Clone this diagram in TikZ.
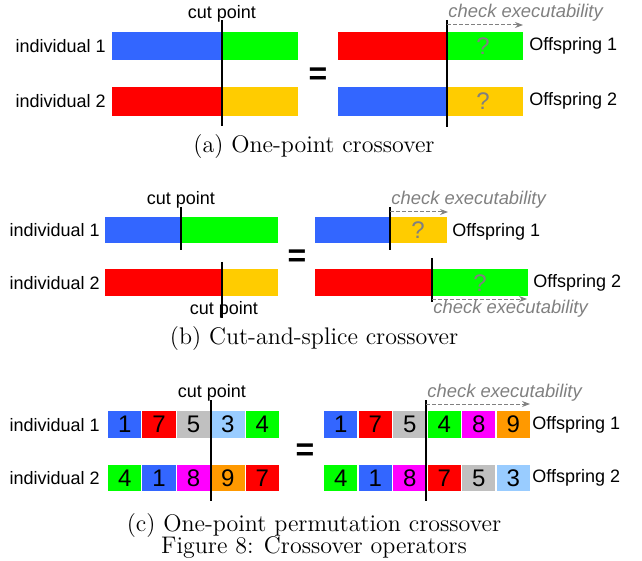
\documentclass[tikz,border=0pt]{standalone}
\usepackage{fontspec}
\newfontfamily\labelfont{Liberation Sans}
\usetikzlibrary{arrows.meta}
\definecolor{GeneBlue}{HTML}{3366FF}
\definecolor{GeneGreen}{HTML}{00FF00}
\definecolor{GeneRed}{HTML}{FF0000}
\definecolor{GeneYellow}{HTML}{FFCC00}
\definecolor{GeneGray}{HTML}{C0C0C0}
\definecolor{GeneSky}{HTML}{99CCFF}
\definecolor{GeneMagenta}{HTML}{FF00FF}
\definecolor{GeneOrange}{HTML}{FF9900}
\definecolor{CheckGray}{HTML}{808080}

\tikzset{
  lbl/.style={font=\labelfont\fontsize{9}{10}\selectfont, inner sep=0pt},
  chk/.style={font=\labelfont\itshape\fontsize{9.2}{10}\selectfont, text=CheckGray, inner sep=0pt, anchor=west},
  qmark/.style={font=\labelfont\fontsize{12}{12}\selectfont, text=CheckGray, inner sep=0pt},
  eqsign/.style={font=\labelfont\bfseries\fontsize{16}{16}\selectfont, inner sep=0pt},
  capt/.style={font=\fontsize{12}{14}\selectfont, inner sep=0pt, anchor=base},
  cutline/.style={line width=1.3pt, black},
  chkarrow/.style={->, dash pattern=on 2pt off 1pt, CheckGray, line width=0.5pt},
  gene/.style={draw=white, line width=0.5pt, minimum width=17.2pt, minimum height=13.6pt,
    anchor=west, inner sep=0pt, font=\labelfont\fontsize{12}{12}\selectfont}
}

\begin{document}
\begin{tikzpicture}[x=0.5pt, y=-0.5pt, >={Stealth[length=4pt,width=3pt]}]
    \useasboundingbox (0,0) rectangle (642,561);

    % (a) One-point crossover
    \node[lbl, anchor=east] (aInd1) at (106,46) {individual 1};
    \node[lbl, anchor=east] (aInd2) at (106,101) {individual 2};
    \fill[GeneBlue] (112,32) rectangle (222,60);
    \fill[GeneGreen] (222,32) rectangle (298,60);
    \fill[GeneRed] (112,87) rectangle (222,116);
    \fill[GeneYellow] (222,87) rectangle (298,116);
    \coordinate (aCutTop) at (222,20);
    \coordinate (aCutBot) at (222,126);
    \draw[cutline] (aCutTop) -- (aCutBot);
    \node[lbl] (aCut) at (222,14) {cut point};

    \node[eqsign] (aEq) at (318,76) {=};

    \fill[GeneRed] (338,32) rectangle (447,60);
    \fill[GeneGreen] (447,32) rectangle (523,60);
    \fill[GeneBlue] (338,87) rectangle (447,116);
    \fill[GeneYellow] (447,87) rectangle (523,116);
    \node[qmark] (aQ1) at (483,46) {?};
    \node[qmark] (aQ2) at (483,101) {?};
    \coordinate (aOffTop) at (447,20);
    \coordinate (aOffBot) at (447,127);
    \draw[cutline] (aOffTop) -- (aOffBot);
    \coordinate (aChkA) at (447,25);
    \coordinate (aChkB) at (523,25);
    \draw[chkarrow] (aChkA) -- (aChkB);
    \node[chk] (aChk) at (448,13) {check executability};
    \node[lbl, anchor=west] (aOff1) at (529,46) {Offspring 1};
    \node[lbl, anchor=west] (aOff2) at (529,101) {Offspring 2};

    \node[capt] (aCap) at (314,153) {(a) One-point crossover};

    % (b) Cut-and-splice crossover
    \node[lbl, anchor=east] (bInd1) at (100,230) {individual 1};
    \node[lbl, anchor=east] (bInd2) at (100,283) {individual 2};
    \fill[GeneBlue] (105,217) rectangle (181,243);
    \fill[GeneGreen] (181,217) rectangle (278,243);
    \fill[GeneRed] (105,269) rectangle (222,296);
    \fill[GeneYellow] (222,269) rectangle (278,296);
    \coordinate (bCut1Top) at (181,207);
    \coordinate (bCut1Bot) at (181,250);
    \draw[cutline] (bCut1Top) -- (bCut1Bot);
    \node[lbl] (bCut1) at (181,200) {cut point};
    \coordinate (bCut2Top) at (222,262);
    \coordinate (bCut2Bot) at (222,318);
    \draw[cutline] (bCut2Top) -- (bCut2Bot);
    \node[lbl] (bCut2) at (224,310) {cut point};

    \node[eqsign] (bEq) at (297,258) {=};

    \fill[GeneBlue] (315,217) rectangle (390,243);
    \fill[GeneYellow] (390,217) rectangle (447,243);
    \node[qmark] (bQ1) at (418,230) {?};
    \coordinate (bOff1Top) at (390,207);
    \coordinate (bOff1Bot) at (390,250);
    \draw[cutline] (bOff1Top) -- (bOff1Bot);
    \coordinate (bChk1A) at (390,212);
    \coordinate (bChk1B) at (448,212);
    \draw[chkarrow] (bChk1A) -- (bChk1B);
    \node[chk] (bChk1) at (391,200) {check executability};
    \node[lbl, anchor=west] (bOff1) at (452,232) {Offspring 1};

    \fill[GeneRed] (315,269) rectangle (432,296);
    \fill[GeneGreen] (432,269) rectangle (528,296);
    \node[qmark] (bQ2) at (480,283) {?};
    \coordinate (bOff2Top) at (432,258);
    \coordinate (bOff2Bot) at (432,302);
    \draw[cutline] (bOff2Top) -- (bOff2Bot);
    \coordinate (bChk2A) at (432,299);
    \coordinate (bChk2B) at (527,299);
    \draw[chkarrow] (bChk2A) -- (bChk2B);
    \node[chk] (bChk2) at (433,309) {check executability};
    \node[lbl, anchor=west] (bOff2) at (533,283) {Offspring 2};

    \node[capt] (bCap) at (314,344) {(b) Cut-and-splice crossover};

    % (c) One-point permutation crossover
    \node[lbl, anchor=east] (cInd1) at (100,425) {individual 1};
    \node[lbl, anchor=east] (cInd2) at (100,478) {individual 2};
    \foreach \col/\num [count=\i from 0] in {GeneBlue/1, GeneRed/7, GeneGray/5, GeneSky/3, GeneGreen/4}
        \node[gene, fill=\col] (cPar1g\i) at ({107+34.4*\i},424.5) {\num};
    \foreach \col/\num [count=\i from 0] in {GeneGreen/4, GeneBlue/1, GeneMagenta/8, GeneOrange/9, GeneRed/7}
        \node[gene, fill=\col] (cPar2g\i) at ({107+34.4*\i},478) {\num};
    \coordinate (cCutTop) at (211,400);
    \coordinate (cCutBot) at (211,501);
    \draw[cutline] (cCutTop) -- (cCutBot);
    \node[lbl] (cCut) at (212,393) {cut point};

    \node[eqsign] (cEq) at (305,452) {=};

    \foreach \col/\num [count=\i from 0] in {GeneBlue/1, GeneRed/7, GeneGray/5, GeneGreen/4, GeneMagenta/8, GeneOrange/9}
        \node[gene, fill=\col] (cOff1g\i) at ({323+34.5*\i},424.5) {\num};
    \foreach \col/\num [count=\i from 0] in {GeneGreen/4, GeneBlue/1, GeneMagenta/8, GeneRed/7, GeneGray/5, GeneSky/3}
        \node[gene, fill=\col] (cOff2g\i) at ({323+34.5*\i},478) {\num};
    \coordinate (cOffTop) at (426,400);
    \coordinate (cOffBot) at (426,501);
    \draw[cutline] (cOffTop) -- (cOffBot);
    \coordinate (cChkA) at (426,404);
    \coordinate (cChkB) at (530,404);
    \draw[chkarrow] (cChkA) -- (cChkB);
    \node[chk] (cChk) at (427,393) {check executability};
    \node[lbl, anchor=west] (cOff1) at (532,425) {Offspring 1};
    \node[lbl, anchor=west] (cOff2) at (532,478) {Offspring 2};

    \node[capt] (cCap) at (314,531) {(c) One-point permutation crossover};
    \node[capt] (figCap) at (314,553.5) {Figure 8: Crossover operators};
\end{tikzpicture}
\end{document}
